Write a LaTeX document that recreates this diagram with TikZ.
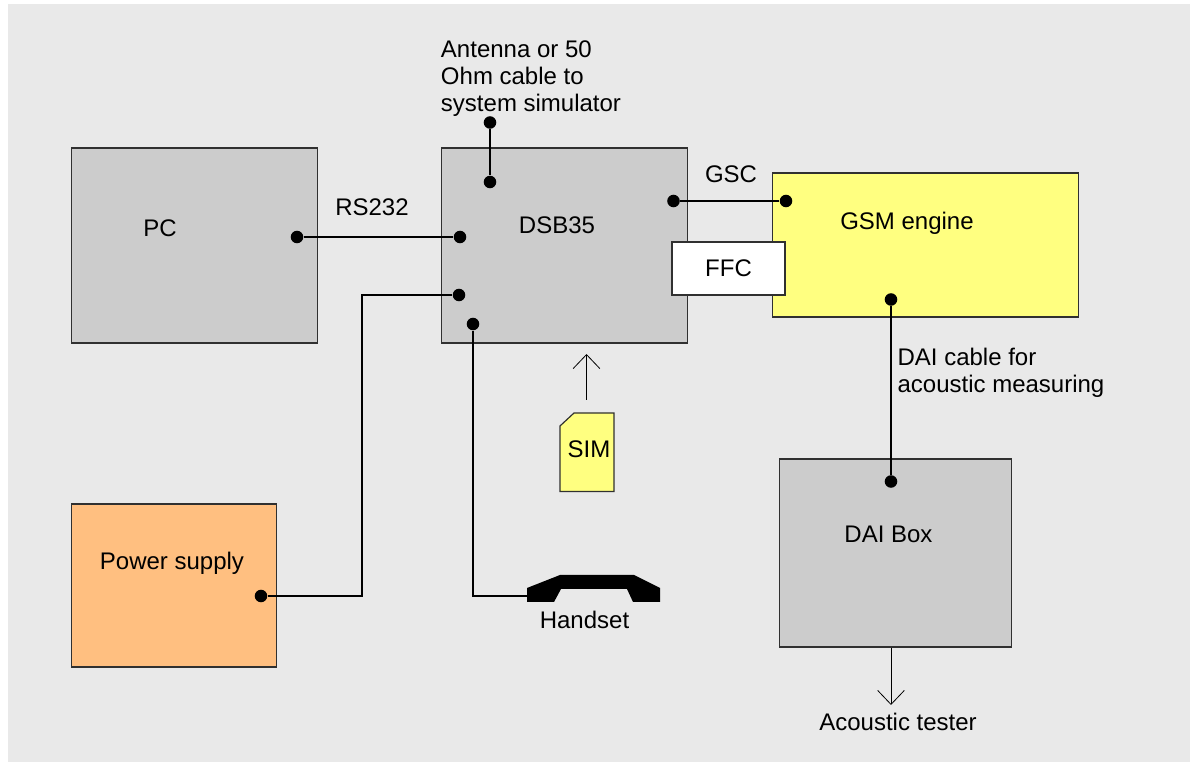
\documentclass[tikz,border=0pt]{standalone}
\usepackage{fontspec}
\setmainfont{Liberation Sans}
\usetikzlibrary{arrows.meta, positioning}
\definecolor{panelgray}{HTML}{E9E9E9}
\definecolor{boxgray}{HTML}{CCCCCC}
\definecolor{engineyellow}{HTML}{FFFF80}
\definecolor{supplyorange}{HTML}{FFBF80}
\definecolor{edgegray}{HTML}{303030}
\tikzset{
  box/.style    = {draw=edgegray, line width=0.9pt, anchor=north west, inner sep=0pt,
                   fill=boxgray},
  dot/.style    = {circle, fill=black, minimum size=9.4pt, inner sep=0pt},
  label/.style  = {inner sep=0pt, align=left},
  cable/.style  = {draw=black, line width=1.4pt},
  pointer/.style = {draw=black, line width=0.6pt,
                   -{Straight Barb[length=10.5pt, width=20pt, line width=0.6pt]}},
}

\begin{document}
\begin{tikzpicture}[x=0.75pt, y=-0.75pt,
  every node/.append style = {font=\fontsize{18}{20.25}\selectfont}]
  \useasboundingbox (0,0) rectangle (1190,762);
  \fill[panelgray] (8,4) rectangle (1190,762);

  % boxes
  \node[box, minimum width=184.5pt, minimum height=146.25pt] (pc)  at (70.5,147.5)  {};
  \node[box, minimum width=184.5pt, minimum height=146.25pt] (dsb) at (440.5,147.5) {};
  \node[box, minimum width=229.5pt, minimum height=108pt, fill=engineyellow] (gsm) at (771.5,172.5) {};
  \node[box, minimum width=84.75pt, minimum height=39.75pt, fill=white, anchor=center] (ffc) at (728.5,268.5) {FFC};
  \node[box, minimum width=153.75pt, minimum height=122.25pt, fill=supplyorange] (psu) at (70.5,503.5) {};
  \node[box, minimum width=174pt, minimum height=141pt] (dai) at (778.5,458.5) {};

  % SIM card and handset
  \draw[edgegray, line width=0.9pt, fill=engineyellow] (574,413) -- (614,413) -- (614,491.5) -- (560,491.5) -- (560,426) -- cycle;
  \fill[black] (527,602) -- (527,588) -- (560,575) -- (634,575) -- (660,588) -- (660,602)
    -- (633,602) -- (627,589) -- (561,589) -- (554,602) -- cycle;

  % labels
  \node[label] (pclab)  at (160,228) {PC};
  \node[label] (dsblab) at (557,225) {DSB35};
  \node[label] (gsmlab) at (907,223.5) {GSM engine};
  \node[label] (psulab) at (172,563) {Power supply};
  \node[label] (dailab) at (888.5,534) {DAI Box};
  \node[label] (simlab) at (589,449) {SIM};
  \node[label] (hslab)  at (584.5,620) {Handset};
  \node[label] (rslab)  at (372,207) {RS232};
  \node[label] (gsclab) at (731,174) {GSC};
  \node[label] (antlab) at (531,79) {Antenna or 50\\Ohm cable to\\system simulator};
  \node[label] (dclab)  at (1001,373) {DAI cable for\\acoustic measuring};
  \node[label] (atlab)  at (898,722) {Acoustic tester};

  % cable ends
  \node[dot] (pcd)   at (297,237) {};
  \node[dot] (rsd)   at (460,237) {};
  \node[dot] (antt)  at (490,122.5) {};
  \node[dot] (antb)  at (490,182) {};
  \node[dot] (gscl)  at (673.5,201) {};
  \node[dot] (gscr)  at (786,201) {};
  \node[dot] (gsmd)  at (891,299.5) {};
  \node[dot] (daid)  at (891,481.5) {};
  \node[dot] (psud)  at (261,596) {};
  \node[dot] (pwrd)  at (459,295) {};
  \node[dot] (hsd)   at (473,324) {};
  \coordinate (hsin) at (527,596);

  \foreach \a/\b in {pcd/rsd, antt/antb, gscl/gscr, gsmd/daid}
    \draw[cable] (\a) -- (\b);
  \draw[cable] (psud) -- (362,596) |- (pwrd);
  \draw[cable] (hsd) |- (hsin);

  % sim and tester pointers
  \coordinate (simtail) at (586.5,400);
  \coordinate (simhead) at (586.5,354);
  \coordinate (testhead) at (891,705);
  \draw[pointer] (simtail) -- (simhead);
  \draw[pointer] (dai.south -| testhead) -- (testhead);
\end{tikzpicture}
\end{document}
